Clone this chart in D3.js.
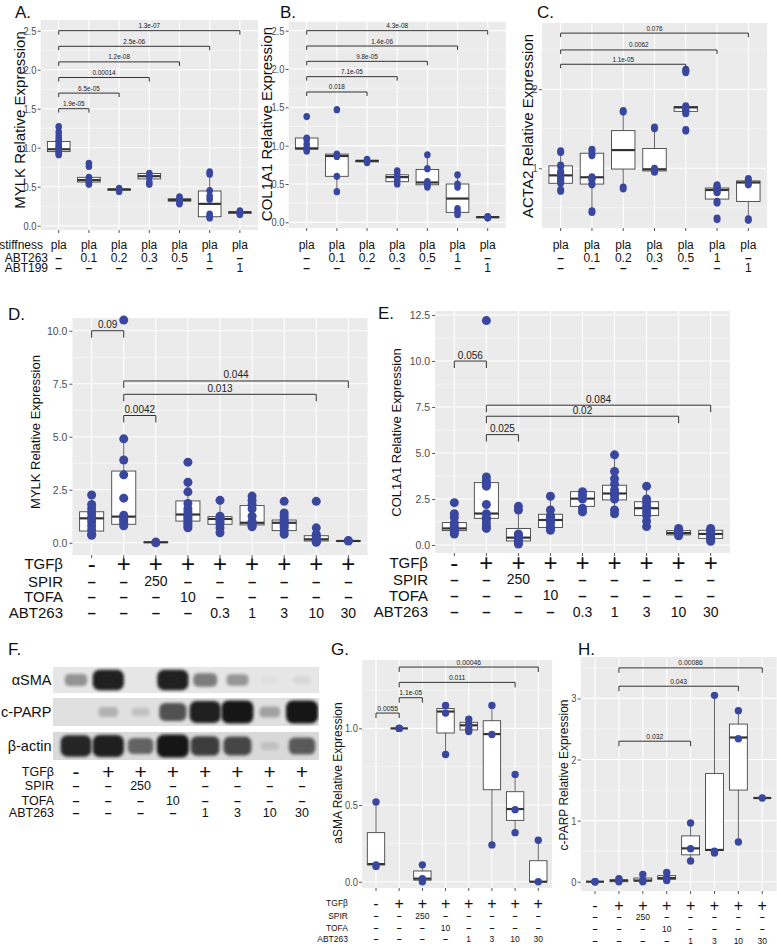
<!DOCTYPE html>
<html><head><meta charset="utf-8">
<script src="https://cdn.jsdelivr.net/npm/d3@7/dist/d3.min.js"></script>
<style>body{margin:0;background:#fff}</style>
</head><body>
<svg id="c" width="777" height="946"></svg>
<script>
// ================= DATA =================
// Panels A-C : x-axis rows
const stiffRow  = ["pla","pla","pla","pla","pla","pla","pla"];
const abt263Row = ["–","0.1","0.2","0.3","0.5","1","–"];
const abt199Row = ["–","–","–","–","–","–","1"];

// Panel A: MYLK (points and box stats [lo,q1,med,q3,hi])
const mylkA_pts = [
  [1.27,1.20,1.15,1.11,1.08,1.05,1.02,1.00,0.98,0.96,0.95,0.93,0.91],
  [0.80,0.76,0.62,0.60,0.58,0.57,0.55,0.53],
  [0.48,0.46,0.44],
  [0.67,0.65,0.62,0.56,0.53],
  [0.37,0.35,0.33,0.31,0.29,0.28],
  [0.69,0.66,0.45,0.38,0.34,0.15,0.12,0.10],
  [0.19,0.175,0.165,0.155,0.145]
];
const mylkA_box = [
  [0.91,0.95,0.98,1.08,1.20],[0.53,0.56,0.585,0.62,0.62],[0.44,0.455,0.465,0.47,0.48],
  [0.53,0.60,0.635,0.67,0.67],[0.28,0.315,0.33,0.345,0.37],[0.10,0.115,0.28,0.445,0.69],
  [0.145,0.16,0.172,0.178,0.19]
];
const mylkA_brk = [[0,1,1.5,"1.9e-05"],[0,2,1.7,"6.5e-05"],[0,3,1.9,"0.00014"],[0,4,2.1,"1.2e-08"],[0,5,2.3,"2.5e-06"],[0,6,2.5,"1.3e-07"]];

// Panel B: COL1A1
const col1B_pts = [
  [1.38,1.10,1.08,1.02,0.97,0.95,0.93],
  [1.47,0.89,0.86,0.60,0.40],
  [0.82,0.80,0.78],
  [0.67,0.62,0.58,0.55,0.50],
  [0.88,0.70,0.53,0.51,0.49,0.46],
  [0.62,0.50,0.46,0.18,0.14,0.10],
  [0.075,0.07,0.065,0.06,0.055]
];
const col1B_box = [
  [0.93,0.955,0.965,1.10,1.10],[0.40,0.60,0.865,0.89,0.89],[0.78,0.79,0.80,0.81,0.82],
  [0.50,0.53,0.59,0.62,0.67],[0.46,0.49,0.52,0.69,0.88],[0.10,0.13,0.31,0.50,0.62],
  [0.055,0.06,0.068,0.072,0.075]
];
const col1B_brk = [[0,2,1.7,"0.018"],[0,3,1.9,"7.1e-05"],[0,4,2.1,"9.8e-05"],[0,5,2.3,"1.4e-06"],[0,6,2.5,"4.3e-08"]];

// Panel C: ACTA2
const acta2C_pts = [
  [1.21,1.03,0.95,0.91,0.88,0.85,0.82,0.72],
  [1.23,1.17,0.88,0.86,0.80,0.45],
  [1.72,0.75],
  [1.51,0.99,0.96],
  [2.24,2.22,1.78,1.76,1.73,1.70,1.48],
  [0.78,0.76,0.74,0.72,0.70,0.57,0.36],
  [0.86,0.80,0.35]
];
const acta2C_box = [
  [0.72,0.81,0.91,1.03,1.21],[0.45,0.80,0.886,1.19,1.23],[0.75,0.99,1.23,1.476,1.72],
  [0.96,0.966,0.987,1.25,1.51],[1.70,1.72,1.77,1.78,1.78],[0.57,0.61,0.725,0.75,0.78],
  [0.35,0.58,0.82,0.84,0.86]
];
const acta2C_brk = [[0,4,2.316,"1.1e-05"],[0,5,2.497,"0.0062"],[0,6,2.71,"0.076"]];

// Panels D-E : treatment rows (9 groups)
const tgfRow9  = ["-","+","+","+","+","+","+","+","+"];
const spirRow9 = ["–","–","250","–","–","–","–","–","–"];
const tofaRow9 = ["–","–","–","10","–","–","–","–","–"];
const abtRow9  = ["–","–","–","–","0.3","1","3","10","30"];

// Panel D: MYLK
const mylkD_pts = [
  [2.25,1.8,1.6,1.4,1.2,1.15,1.0,0.8,0.6,0.4,0.35],
  [10.5,4.9,3.9,3.2,2.1,1.3,1.2,1.1,1.0,0.9,0.8],
  [0.03,0.0],
  [3.8,2.85,2.4,1.85,1.6,1.45,1.3,1.2,1.1,1.0,0.9,0.8,0.7],
  [2.0,1.25,1.15,1.1,1.0,0.9,0.7,0.47],
  [2.2,2.0,1.8,1.6,1.25,1.0,0.9,0.8,0.75],
  [1.95,1.4,1.25,1.1,1.0,0.9,0.8,0.7,0.55,0.4],
  [1.95,0.7,0.4,0.3,0.2,0.12,0.05,0.02],
  [0.1,0.08]
];
const mylkD_box = [
  [0.35,0.55,1.15,1.46,2.25],[0.8,0.87,1.23,3.38,4.9],[0.0,0.01,0.02,0.03,0.03],
  [0.7,1.02,1.33,1.97,2.85],[0.47,0.87,1.12,1.23,2.0],[0.75,0.84,0.94,1.75,2.2],
  [0.4,0.57,0.94,1.07,1.4],[0.02,0.08,0.16,0.33,0.7],[0.07,0.075,0.08,0.09,0.1]
];
const mylkD_brk = [[0,1,10.0,"0.09"],[1,2,6.0,"0.0042"],[1,7,7.0,"0.013"],[1,8,7.63,"0.044"]];

// Panel E: COL1A1
const col1E_pts = [
  [2.3,1.7,1.5,1.2,1.0,0.9,0.85,0.8,0.7,0.6],
  [12.2,3.7,3.5,3.3,3.2,2.2,1.7,1.5,1.4,1.2,1.0,0.9],
  [2.1,1.9,0.6,0.5,0.4,0.35,0.3,0.2,0.1,0.05],
  [2.65,1.9,1.6,1.5,1.4,1.3,1.2,1.0,0.9,0.8],
  [2.9,2.7,2.5,2.0,1.8],
  [4.9,4.0,3.6,3.3,3.0,2.8,2.7,2.5,1.9,1.7],
  [3.2,2.5,2.3,2.1,2.0,1.8,1.6,1.3,1.0],
  [0.9,0.8,0.7,0.6,0.55,0.5],
  [0.9,0.8,0.7,0.6,0.5,0.4,0.3,0.2]
];
const col1E_box = [
  [0.6,0.78,0.9,1.22,1.7],[0.9,1.45,1.71,3.39,3.7],[0.05,0.22,0.4,0.9,2.0],
  [0.8,0.95,1.36,1.67,2.65],[1.8,2.1,2.52,2.9,2.9],[1.7,2.45,2.8,3.25,4.9],
  [1.0,1.6,2.0,2.35,3.2],[0.5,0.55,0.65,0.78,0.9],[0.2,0.36,0.6,0.8,0.9]
];
const col1E_brk = [[0,1,10.0,"0.056"],[1,2,6.0,"0.025"],[1,7,7.0,"0.02"],[1,8,7.6,"0.084"]];

// Panels F-H : treatment rows (8 groups)
const tgfRow8  = ["-","+","+","+","+","+","+","+"];
const spirRow8 = ["–","–","250","–","–","–","–","–"];
const tofaRow8 = ["–","–","–","10","–","–","–","–"];
const abtRow8  = ["–","–","–","–","1","3","10","30"];

// Panel F: western blot band intensities (0..1) per lane
const blotProteins = ["αSMA","c-PARP","β-actin"];
const bandSMA   = [0.4,0.95,0.0,0.95,0.5,0.38,0.03,0.07];
const bandPARP  = [0.0,0.22,0.14,0.7,0.95,1.0,0.3,1.0];
const bandActin = [0.92,0.95,0.6,1.0,0.8,0.75,0.12,0.65];

// Panel G: aSMA
const asmaG_pts = [[0.52,0.11,0.10],[1.0,1.0,1.0],[0.11,0.02,0.0],[1.15,1.10,0.83],[1.06,1.03,1.0,0.98],[1.15,0.96,0.24],[0.70,0.47,0.32],[0.27,0.0]];
const asmaG_box = [[0.10,0.11,0.115,0.32,0.52],[1,1,1,1,1],[0.0,0.01,0.02,0.07,0.11],[0.83,0.97,1.11,1.13,1.15],
  [0.98,0.99,1.02,1.04,1.06],[0.24,0.60,0.963,1.05,1.15],[0.32,0.40,0.474,0.587,0.70],[0.0,0.0,0.0,0.137,0.27]];
const asmaG_brk = [[0,1,1.1,"0.0055"],[1,2,1.2,"1.1e-05"],[1,6,1.3,"0.011"],[1,7,1.4,"0.00046"]];

// Panel H: c-PARP
const cparpH_pts = [[0,0,0],[0.05,0.02,0.0],[0.12,0.02,0.0],[0.15,0.07,0.02],[0.96,0.54,0.34],[3.05,0.5,0.47],[2.8,2.34,0.65],[1.37]];
const cparpH_box = [[0,0,0,0,0],[0,0.0,0.02,0.03,0.05],[0,0.01,0.02,0.06,0.12],[0.02,0.04,0.06,0.1,0.15],
  [0.34,0.44,0.546,0.75,0.96],[0.47,0.51,0.52,1.77,3.05],[0.65,1.5,2.36,2.58,2.8],[1.37,1.37,1.37,1.37,1.37]];
const cparpH_brk = [[1,4,2.3,"0.032"],[1,6,3.2,"0.043"],[1,7,3.5,"0.00086"]];

// ================= DRAW =================
const FONT = "'Liberation Sans', Arial, Helvetica, sans-serif";
const DOT = "#3a479f";
const svg = d3.select("#c").attr("font-family", FONT);

function drawPanel(o) {
  const n = o.pts.length;
  const x = d3.scalePoint().domain(d3.range(n)).range([o.left, o.right]).padding(0.6);
  const y = d3.scaleLinear().domain(o.ydom).range([o.bottom, o.top]);
  const step = x.step();
  const g = svg.append("g");
  g.append("rect").attr("x", o.left).attr("y", o.top)
    .attr("width", o.right - o.left).attr("height", o.bottom - o.top).attr("fill", "#ebebeb");
  g.selectAll(null).data(o.minor).join("line")
    .attr("x1", o.left).attr("x2", o.right).attr("y1", d => y(d)).attr("y2", d => y(d))
    .attr("stroke", "#fff").attr("stroke-width", 0.5);
  g.selectAll(null).data(o.ticks).join("line")
    .attr("x1", o.left).attr("x2", o.right).attr("y1", d => y(d)).attr("y2", d => y(d))
    .attr("stroke", "#fff").attr("stroke-width", 1.1);
  g.selectAll(null).data(d3.range(n)).join("line")
    .attr("x1", d => x(d)).attr("x2", d => x(d)).attr("y1", o.top).attr("y2", o.bottom)
    .attr("stroke", "#fff").attr("stroke-width", 1.1);
  // y axis
  const ag = g.append("g").attr("transform", `translate(${o.left},0)`)
    .call(d3.axisLeft(y).tickValues(o.ticks).tickFormat(o.fmt).tickSize(3).tickPadding(2));
  ag.attr("font-family", FONT).attr("font-size", o.tickFs);
  ag.select(".domain").remove();
  ag.selectAll(".tick line").attr("stroke", "#555");
  ag.selectAll(".tick text").attr("fill", "#4d4d4d");
  if (o.tickSx) ag.selectAll(".tick text").attr("transform", `scale(${o.tickSx},1)`);
  // x ticks
  g.selectAll(null).data(d3.range(n)).join("line")
    .attr("x1", d => x(d)).attr("x2", d => x(d)).attr("y1", o.bottom).attr("y2", o.bottom + 3)
    .attr("stroke", "#555");
  // boxes
  const w = step * 0.75;
  o.box.forEach((b, i) => {
    const cx = x(i);
    g.append("line").attr("x1", cx).attr("x2", cx).attr("y1", y(b[0])).attr("y2", y(b[1]))
      .attr("stroke", "#555").attr("stroke-width", 0.9);
    g.append("line").attr("x1", cx).attr("x2", cx).attr("y1", y(b[3])).attr("y2", y(b[4]))
      .attr("stroke", "#555").attr("stroke-width", 0.9);
    g.append("rect").attr("x", cx - w / 2).attr("y", y(b[3])).attr("width", w)
      .attr("height", Math.max(0, y(b[1]) - y(b[3]))).attr("fill", "#fff")
      .attr("stroke", "#444").attr("stroke-width", 0.9);
    g.append("line").attr("x1", cx - w / 2).attr("x2", cx + w / 2).attr("y1", y(b[2])).attr("y2", y(b[2]))
      .attr("stroke", "#333").attr("stroke-width", 2.2);
  });
  // points
  o.pts.forEach((arr, i) => {
    g.selectAll(null).data(arr).join("ellipse")
      .attr("cx", x(i)).attr("cy", d => y(d)).attr("rx", o.rx).attr("ry", o.ry).attr("fill", DOT);
  });
  // brackets
  o.brk.forEach(([a, b, v, lab]) => {
    const yy = y(v), t = o.brTick;
    g.append("path").attr("d", `M${x(a)},${yy + t}L${x(a)},${yy}L${x(b)},${yy}L${x(b)},${yy + t}`)
      .attr("fill", "none").attr("stroke", "#333").attr("stroke-width", 1);
    g.append("text").attr("transform", `translate(${(x(a) + x(b)) / 2},${yy - 2.5}) scale(${o.brSx},1)`)
      .attr("text-anchor", "middle").attr("font-size", o.brFs).attr("fill", "#222").text(lab);
  });
  // y title
  svg.append("text").attr("transform", `translate(${o.titleX},${o.titleY}) rotate(-90)`)
    .attr("text-anchor", "middle").attr("dominant-baseline", "central")
    .attr("font-size", o.titleFs).attr("fill", "#111").text(o.title);
  return x;
}

function drawRows(x, rows, opt) {
  rows.forEach(r => {
    if (r.label) svg.append("text").attr("x", r.lx).attr("y", r.y).attr("text-anchor", "end")
      .attr("dominant-baseline", opt.baseline).attr("font-size", opt.labFs).attr("fill", "#111").text(r.label);
    r.vals.forEach((v, i) => {
      const t = svg.append("text").attr("x", x(i)).attr("y", r.y).attr("text-anchor", "middle")
        .attr("dominant-baseline", opt.baseline).attr("fill", "#111").text(v);
      if (v === "+" || v === "-") t.attr("font-size", opt.plusFs);
      else if (v === "–") t.attr("font-size", opt.dashFs).attr("font-weight", "bold");
      else t.attr("font-size", opt.valFs);
    });
  });
}

function panelLetter(s, x, y) {
  svg.append("text").attr("x", x).attr("y", y).attr("font-size", 17).attr("fill", "#111").text(s);
}

// ---- Panel A ----
const xA = drawPanel({pts: mylkA_pts, box: mylkA_box, brk: mylkA_brk, left: 40.6, right: 258, top: 20, bottom: 230,
  ydom: [-0.055, 2.637], ticks: [0, 0.5, 1, 1.5, 2, 2.5], minor: [0.25, 0.75, 1.25, 1.75, 2.25], fmt: d3.format(".1f"),
  tickFs: 11, tickSx: 0.85, rx: 3.3, ry: 3.6, brTick: 4, brFs: 8, brSx: 0.8,
  title: "MYLK  Relative Expression", titleX: 19, titleY: 120, titleFs: 15});
drawRows(xA, [
  {label: "stiffness", lx: 43, y: 248.5, vals: stiffRow},
  {label: "ABT263", lx: 48, y: 261.5, vals: abt263Row},
  {label: "ABT199", lx: 48, y: 271.5, vals: abt199Row}
], {baseline: "auto", labFs: 12, plusFs: 12, dashFs: 12, valFs: 12});
panelLetter("A.", 15, 18);

// ---- Panel B ----
const xB = drawPanel({pts: col1B_pts, box: col1B_box, brk: col1B_brk, left: 288.6, right: 505.8, top: 21.7, bottom: 228,
  ydom: [-0.074, 2.617], ticks: [0, 0.5, 1, 1.5, 2, 2.5], minor: [0.25, 0.75, 1.25, 1.75, 2.25], fmt: d3.format(".1f"),
  tickFs: 11, tickSx: 0.85, rx: 3.3, ry: 3.6, brTick: 4, brFs: 8, brSx: 0.8,
  title: "COL1A1  Relative Expression", titleX: 266.5, titleY: 124, titleFs: 15});
drawRows(xB, [
  {y: 248.5, vals: stiffRow}, {y: 261.5, vals: abt263Row}, {y: 271.5, vals: abt199Row}
], {baseline: "auto", labFs: 12, plusFs: 12, dashFs: 12, valFs: 12});
panelLetter("B.", 280, 18);

// ---- Panel C ----
const xC = drawPanel({pts: acta2C_pts, box: acta2C_box, brk: acta2C_brk, left: 541.9, right: 767.1, top: 23, bottom: 228,
  ydom: [0.244, 2.838], ticks: [1, 2], minor: [0.5, 1.5, 2.5], fmt: d3.format("d"),
  tickFs: 11, tickSx: 0.85, rx: 3.6, ry: 4.4, brTick: 4, brFs: 8, brSx: 0.8,
  title: "ACTA2  Relative Expression", titleX: 527, titleY: 126, titleFs: 15});
drawRows(xC, [
  {y: 248.5, vals: stiffRow}, {y: 261.5, vals: abt263Row}, {y: 271.5, vals: abt199Row}
], {baseline: "auto", labFs: 12, plusFs: 12, dashFs: 12, valFs: 12});
panelLetter("C.", 537, 18);

// ---- Panel D ----
const xD = drawPanel({pts: mylkD_pts, box: mylkD_box, brk: mylkD_brk, left: 72.4, right: 367.6, top: 318, bottom: 555,
  ydom: [-0.58, 10.6], ticks: [0, 2.5, 5, 7.5, 10], minor: [1.25, 3.75, 6.25, 8.75], fmt: d3.format(".1f"),
  tickFs: 10.5, tickSx: 1, rx: 4.5, ry: 4.5, brTick: 7, brFs: 10, brSx: 1,
  title: "MYLK Relative Expression", titleX: 35, titleY: 432, titleFs: 13});
drawRows(xD, [
  {label: "TGFβ", lx: 63, y: 563.5, vals: tgfRow9},
  {label: "SPIR", lx: 63, y: 581, vals: spirRow9},
  {label: "TOFA", lx: 63, y: 596.5, vals: tofaRow9},
  {label: "ABT263", lx: 63, y: 612.5, vals: abtRow9}
], {baseline: "central", labFs: 15, plusFs: 24, dashFs: 15, valFs: 14});
panelLetter("D.", 8, 320);

// ---- Panel E ----
const xE = drawPanel({pts: col1E_pts, box: col1E_box, brk: col1E_brk, left: 435.1, right: 729.9, top: 311, bottom: 553,
  ydom: [-0.435, 12.72], ticks: [0, 2.5, 5, 7.5, 10, 12.5], minor: [1.25, 3.75, 6.25, 8.75, 11.25], fmt: d3.format(".1f"),
  tickFs: 10.5, tickSx: 1, rx: 4.5, ry: 4.5, brTick: 7, brFs: 10, brSx: 1,
  title: "COL1A1 Relative Expression", titleX: 396, titleY: 432.5, titleFs: 13});
drawRows(xE, [
  {label: "TGFβ", lx: 428, y: 562.3, vals: tgfRow9},
  {label: "SPIR", lx: 428, y: 579.3, vals: spirRow9},
  {label: "TOFA", lx: 428, y: 595, vals: tofaRow9},
  {label: "ABT263", lx: 428, y: 611.5, vals: abtRow9}
], {baseline: "central", labFs: 15, plusFs: 24, dashFs: 15, valFs: 14});
panelLetter("E.", 378, 319);

// ---- Panel F (blot) ----
const lx = d3.scalePoint().domain(d3.range(8)).range([76, 302]);
const defs = svg.append("defs");
defs.append("filter").attr("id", "blur").attr("x", "-60%").attr("y", "-60%").attr("width", "220%").attr("height", "220%")
  .append("feGaussianBlur").attr("stdDeviation", 1.8);
const strips = [
  {name: blotProteins[0], vals: bandSMA, y0: 667, y1: 693, bg: "#e6e6e6"},
  {name: blotProteins[1], vals: bandPARP, y0: 698, y1: 726, bg: "#e0e0e0"},
  {name: blotProteins[2], vals: bandActin, y0: 732, y1: 760, bg: "#d9d9d9"}
];
strips.forEach((s, k) => {
  defs.append("clipPath").attr("id", "clip" + k).append("rect")
    .attr("x", 53).attr("y", s.y0).attr("width", 266).attr("height", s.y1 - s.y0);
  svg.append("rect").attr("x", 53).attr("y", s.y0).attr("width", 266).attr("height", s.y1 - s.y0).attr("fill", s.bg);
  const bg = svg.append("g").attr("clip-path", `url(#clip${k})`);
  const h = s.y1 - s.y0;
  const bw = d => 16 + 16 * d, bh = d => h * (0.22 + 0.6 * d);
  bg.selectAll(null).data(s.vals).join("rect")
    .attr("x", (d, i) => lx(i) - bw(d) / 2).attr("y", d => (s.y0 + s.y1) / 2 - bh(d) / 2)
    .attr("width", bw).attr("height", bh).attr("rx", d => 3 + 4 * d)
    .attr("fill", "#141414").attr("opacity", d => d).attr("filter", "url(#blur)");
  svg.append("text").attr("x", 51.5).attr("y", (s.y0 + s.y1) / 2).attr("text-anchor", "end")
    .attr("dominant-baseline", "central").attr("font-size", 14.5).attr("fill", "#111").text(s.name);
});
drawRows(lx, [
  {label: "TGFβ", lx: 54, y: 771.7, vals: tgfRow8},
  {label: "SPIR", lx: 54, y: 786, vals: spirRow8},
  {label: "TOFA", lx: 54, y: 800.7, vals: tofaRow8},
  {label: "ABT263", lx: 54, y: 812.7, vals: abtRow8}
], {baseline: "central", labFs: 12.5, plusFs: 21, dashFs: 12.5, valFs: 12.5});
panelLetter("F.", 8, 655);

// ---- Panel G ----
const xG = drawPanel({pts: asmaG_pts, box: asmaG_box, brk: asmaG_brk, left: 362.1, right: 552.2, top: 660, bottom: 888,
  ydom: [-0.041, 1.446], ticks: [0, 0.5, 1], minor: [0.25, 0.75, 1.25], fmt: d3.format(".1f"),
  tickFs: 11, tickSx: 0.85, rx: 3.7, ry: 3.7, brTick: 5, brFs: 8, brSx: 0.85,
  title: "aSMA Relative Expression", titleX: 338, titleY: 773, titleFs: 12});
drawRows(xG, [
  {label: "TGFβ", lx: 348, y: 903.3, vals: tgfRow8},
  {label: "SPIR", lx: 348, y: 916, vals: spirRow8},
  {label: "TOFA", lx: 348, y: 928.3, vals: tofaRow8},
  {label: "ABT263", lx: 348, y: 939.3, vals: abtRow8}
], {baseline: "central", labFs: 8.5, plusFs: 16, dashFs: 9, valFs: 8.5});
panelLetter("G.", 331, 655);

// ---- Panel H ----
const xH = drawPanel({pts: cparpH_pts, box: cparpH_box, brk: cparpH_brk, left: 580.7, right: 776.6, top: 657, bottom: 891,
  ydom: [-0.152, 3.678], ticks: [0, 1, 2, 3], minor: [0.5, 1.5, 2.5, 3.5], fmt: d3.format("d"),
  tickFs: 11, tickSx: 0.85, rx: 3.7, ry: 3.7, brTick: 5, brFs: 8, brSx: 0.85,
  title: "c-PARP Relative Expression", titleX: 563.5, titleY: 775, titleFs: 12});
drawRows(xH, [
  {y: 905, vals: tgfRow8}, {y: 917.3, vals: spirRow8}, {y: 929.3, vals: tofaRow8}, {y: 940.7, vals: abtRow8}
], {baseline: "central", labFs: 8.5, plusFs: 16, dashFs: 9, valFs: 8.5});
panelLetter("H.", 578, 655);
</script>
</body></html>
